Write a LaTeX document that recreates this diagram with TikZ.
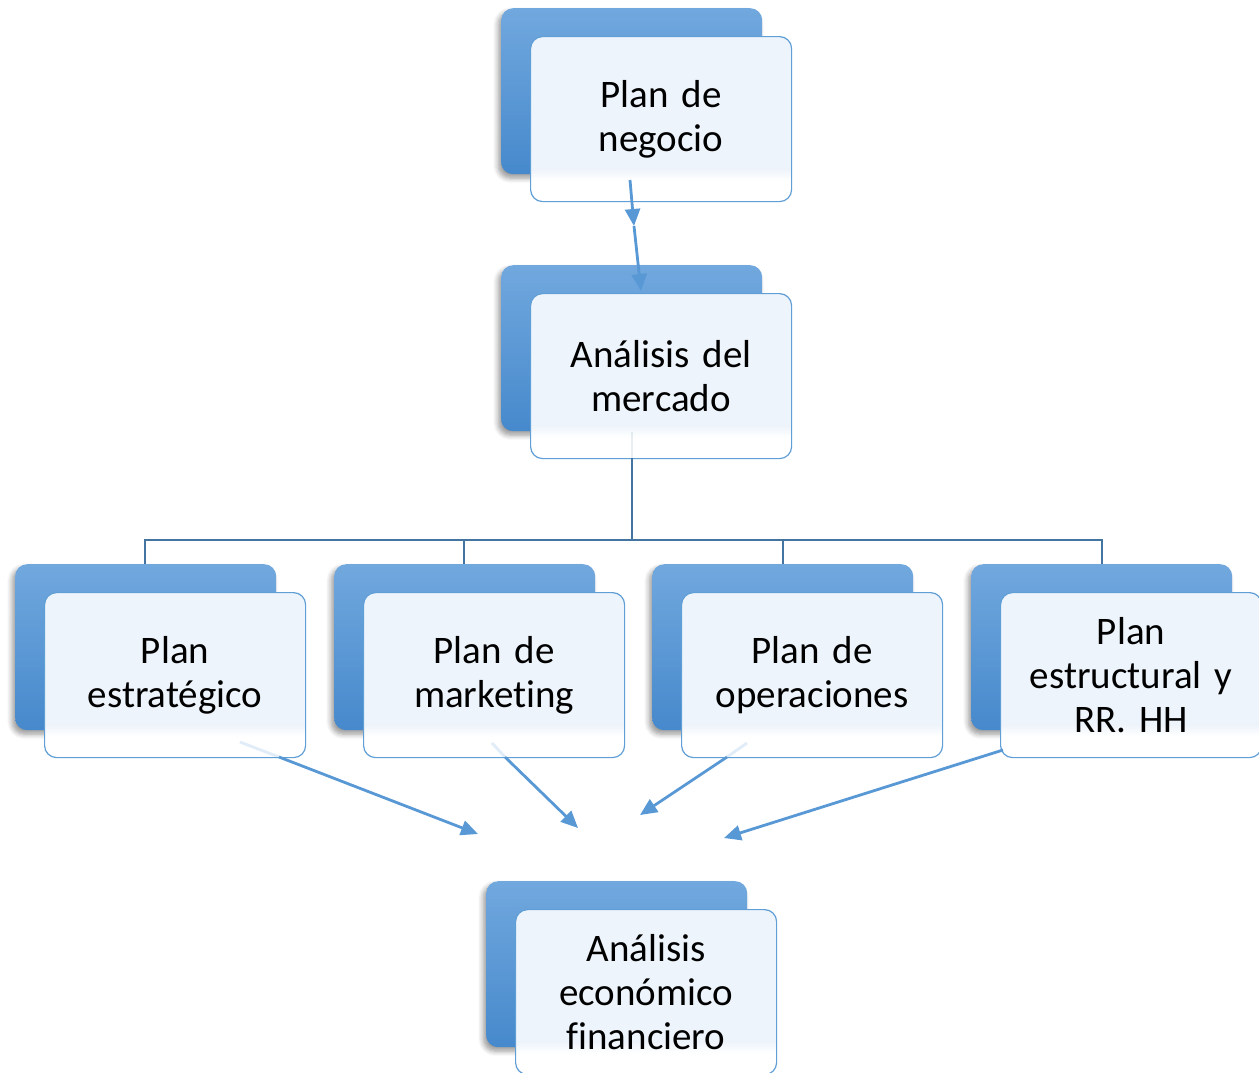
\documentclass[tikz,border=0pt]{standalone}
\usepackage{fontspec}
\setmainfont{Carlito}[Ligatures=NoCommon]
\usetikzlibrary{arrows.meta,shadows.blur}

\definecolor{backtop}{RGB}{113,168,222}
\definecolor{backbot}{RGB}{70,137,204}
\definecolor{edgeblue}{RGB}{96,158,214}
\definecolor{paleblue}{RGB}{238,244,251}
\definecolor{treeblue}{RGB}{68,117,162}
\definecolor{arrowblue}{RGB}{88,152,213}

\tikzset{
  backbox/.style={rounded corners=12pt, minimum width=261pt, minimum height=166pt,
    anchor=north west, inner sep=0pt, draw=none,
    top color=backtop, bottom color=backbot,
    blur shadow={shadow xshift=-3pt, shadow yshift=-4pt, shadow blur steps=6,
      shadow opacity=40, shadow blur radius=5pt}},
  frontbox/.style={rounded corners=12pt, minimum width=261pt, minimum height=165pt,
    anchor=north west, inner sep=0pt, draw=edgeblue, line width=1.2pt, fill=white,
    align=center, text width=250pt, font=\fontsize{39}{44}\selectfont,
    path picture={
      \fill[paleblue, sharp corners] (path picture bounding box.north west)
        rectangle ([yshift=33pt]path picture bounding box.south east);
      \shade[sharp corners, top color=paleblue, bottom color=white]
        ([yshift=33pt]path picture bounding box.south west)
        rectangle ([yshift=21pt]path picture bounding box.south east);
    }},
  treeline/.style={treeblue, line width=2.8pt},
  conn/.style={arrowblue, line width=2.8pt, -{Triangle[length=17pt,width=15pt]}},
  faint/.style={arrowblue, line width=2.8pt, opacity=0.18}
}

% back card with its front label card offset to the lower right
\newcommand\makecard[4]{%
  \node[backbox] (#1b) at (#2,#3) {};
  \node[frontbox] (#1) at (#2+29,#3+28) {#4};
}

\begin{document}
\begin{tikzpicture}[x=1pt,y=-1pt]
\useasboundingbox (0,0) rectangle (1259,1072);

\makecard{neg}{501}{8}{Plan de\\negocio}
\makecard{mer}{501}{265}{Análisis del\\mercado}
\makecard{est}{15}{564}{Plan\\estratégico}
\makecard{mkt}{334}{564}{Plan de\\marketing}
\makecard{ope}{652}{564}{Plan de\\operaciones}
\makecard{rrh}{971}{564}{Plan\\estructural y\\RR. HH}
\makecard{fin}{486}{881}{Análisis\\económico\\financiero}

% hierarchy lines from the market analysis to the four plans
\coordinate (mtop) at (632,432);
\coordinate (mbot) at (632,458);
\coordinate (hub) at (632,540);
\coordinate (h1) at (145,540);
\coordinate (h2) at (464,540);
\coordinate (h3) at (783,540);
\coordinate (h4) at (1102,540);
\draw[treeline, opacity=0.12] (mtop) -- (mbot);
\draw[treeline] (mbot) -- (hub);
\draw[treeline, line width=2.4pt] ([xshift=-1.2pt]h1) -- ([xshift=1.2pt]h4);
\draw[treeline, line width=2.4pt] (h1) -- (h1 |- estb.north);
\draw[treeline, line width=2.4pt] (h2) -- (h2 |- mktb.north);
\draw[treeline, line width=2.4pt] (h3) -- (h3 |- opeb.north);
\draw[treeline, line width=2.4pt] (h4) -- (h4 |- rrhb.north);

% business plan to market analysis
\coordinate (na) at (630,180);
\coordinate (nm) at (634,226);
\coordinate (nb) at (641,291);
\draw[conn] (na) -- (nm);
\draw[conn] (nm) -- (nb);

% the four plans converge on the financial analysis
\coordinate (f1) at (240,742);
\coordinate (s1) at (279,757);
\coordinate (t1) at (478,834);
\coordinate (f2) at (492,743);
\coordinate (s2) at (505,757);
\coordinate (t2) at (578,828);
\coordinate (f3) at (747,743);
\coordinate (s3) at (727,757);
\coordinate (t3) at (640,815);
\coordinate (s4) at (1003,750);
\coordinate (t4) at (724,838);
\draw[faint] (f1) -- (s1);
\draw[faint] (f2) -- (s2);
\draw[faint] (f3) -- (s3);
\draw[conn] (s1) -- (t1);
\draw[conn] (s2) -- (t2);
\draw[conn] (s3) -- (t3);
\draw[conn] (s4) -- (t4);
\end{tikzpicture}
\end{document}
